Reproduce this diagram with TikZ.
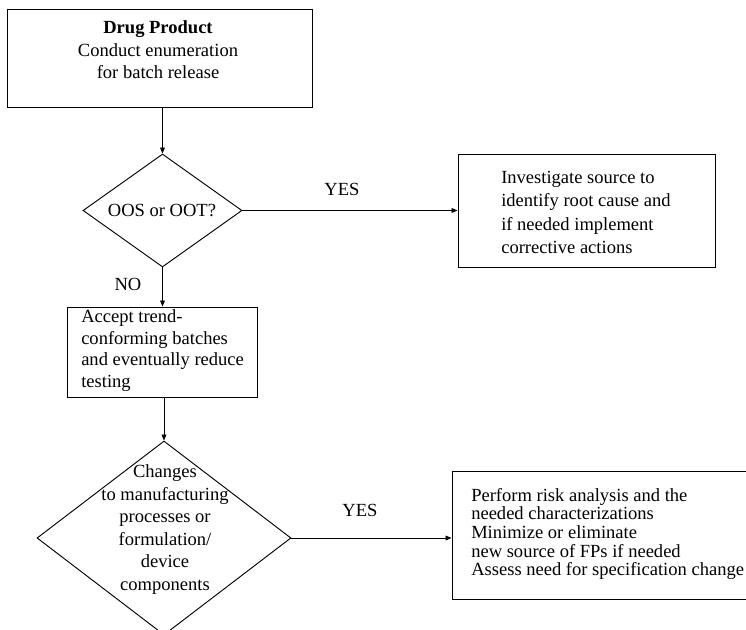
\documentclass[tikz,border=0pt]{standalone}
\usepackage{fontspec}
\setmainfont{Liberation Serif}
\usetikzlibrary{shapes.geometric,arrows.meta}
\begin{document}
\begin{tikzpicture}[x=0.75pt,y=-0.75pt,
  boxshape/.style={draw,line width=0.7pt,rectangle,inner sep=0pt},
  decshape/.style={draw,line width=0.7pt,diamond,inner sep=0pt},
  txt/.style={inner sep=0pt,font=\fontsize{13.9pt}{16.9pt}\selectfont},
  conn/.style={line width=0.6pt,-{Triangle[length=4.5pt,width=3.6pt]}}]
\useasboundingbox (0,0) rectangle (746,630);
% shapes
\node[boxshape,minimum width=305*0.75pt,minimum height=98*0.75pt] (box1) at (159.5,58) {};
\node[decshape,minimum width=159*0.75pt,minimum height=113*0.75pt] (d1) at (162.5,210.5) {};
\node[boxshape,minimum width=257*0.75pt,minimum height=113*0.75pt] (box2) at (586.5,210.5) {};
\node[boxshape,minimum width=190*0.75pt,minimum height=90*0.75pt] (box3) at (162,352) {};
\node[decshape,minimum width=254*0.75pt,minimum height=194*0.75pt] (d2) at (164,538) {};
\node[boxshape,minimum width=304*0.75pt,minimum height=128*0.75pt] (box4) at (604,535) {};
% texts
\node[txt,align=center] (t1) at (158,50) {\textbf{Drug Product}\\Conduct enumeration\\for batch release};
\node[txt] (td1) at (162,211) {OOS or OOT?};
\node[txt,align=left,anchor=west,font=\fontsize{13.9pt}{17.4pt}\selectfont] (t2) at (501,212.5) {Investigate source to\\identify root cause and\\if needed implement\\corrective actions};
\node[txt,align=left,anchor=west,font=\fontsize{13.9pt}{16.3pt}\selectfont] (t3) at (81,350.5) {Accept trend-\\conforming batches\\and eventually reduce\\testing};
\node[txt,align=center,font=\fontsize{13.9pt}{16.9pt}\selectfont] (td2) at (165,529.5) {Changes\\to manufacturing\\processes or\\formulation/\\device\\components};
\node[txt,align=left,anchor=west,font=\fontsize{13.9pt}{13.9pt}\selectfont] (t4) at (471,534) {Perform risk analysis and the\\needed characterizations\\Minimize or eliminate\\new source of FPs if needed\\Assess need for specification change};
\node[txt] (yes1) at (342,189) {YES};
\node[txt] (no1) at (128,284) {NO};
\node[txt] (yes2) at (360,510) {YES};
% connectors
\draw[conn] (box1.south -| d1.north) -- (d1.north);
\draw[conn] (d1.east) -- (box2.west);
\draw[conn] (d1.south) -- (d1.south |- box3.north);
\draw[conn] (box3.south -| d2.north) -- (d2.north);
\draw[conn] (d2.east) -- (d2.east -| box4.west);
\end{tikzpicture}
\end{document}
